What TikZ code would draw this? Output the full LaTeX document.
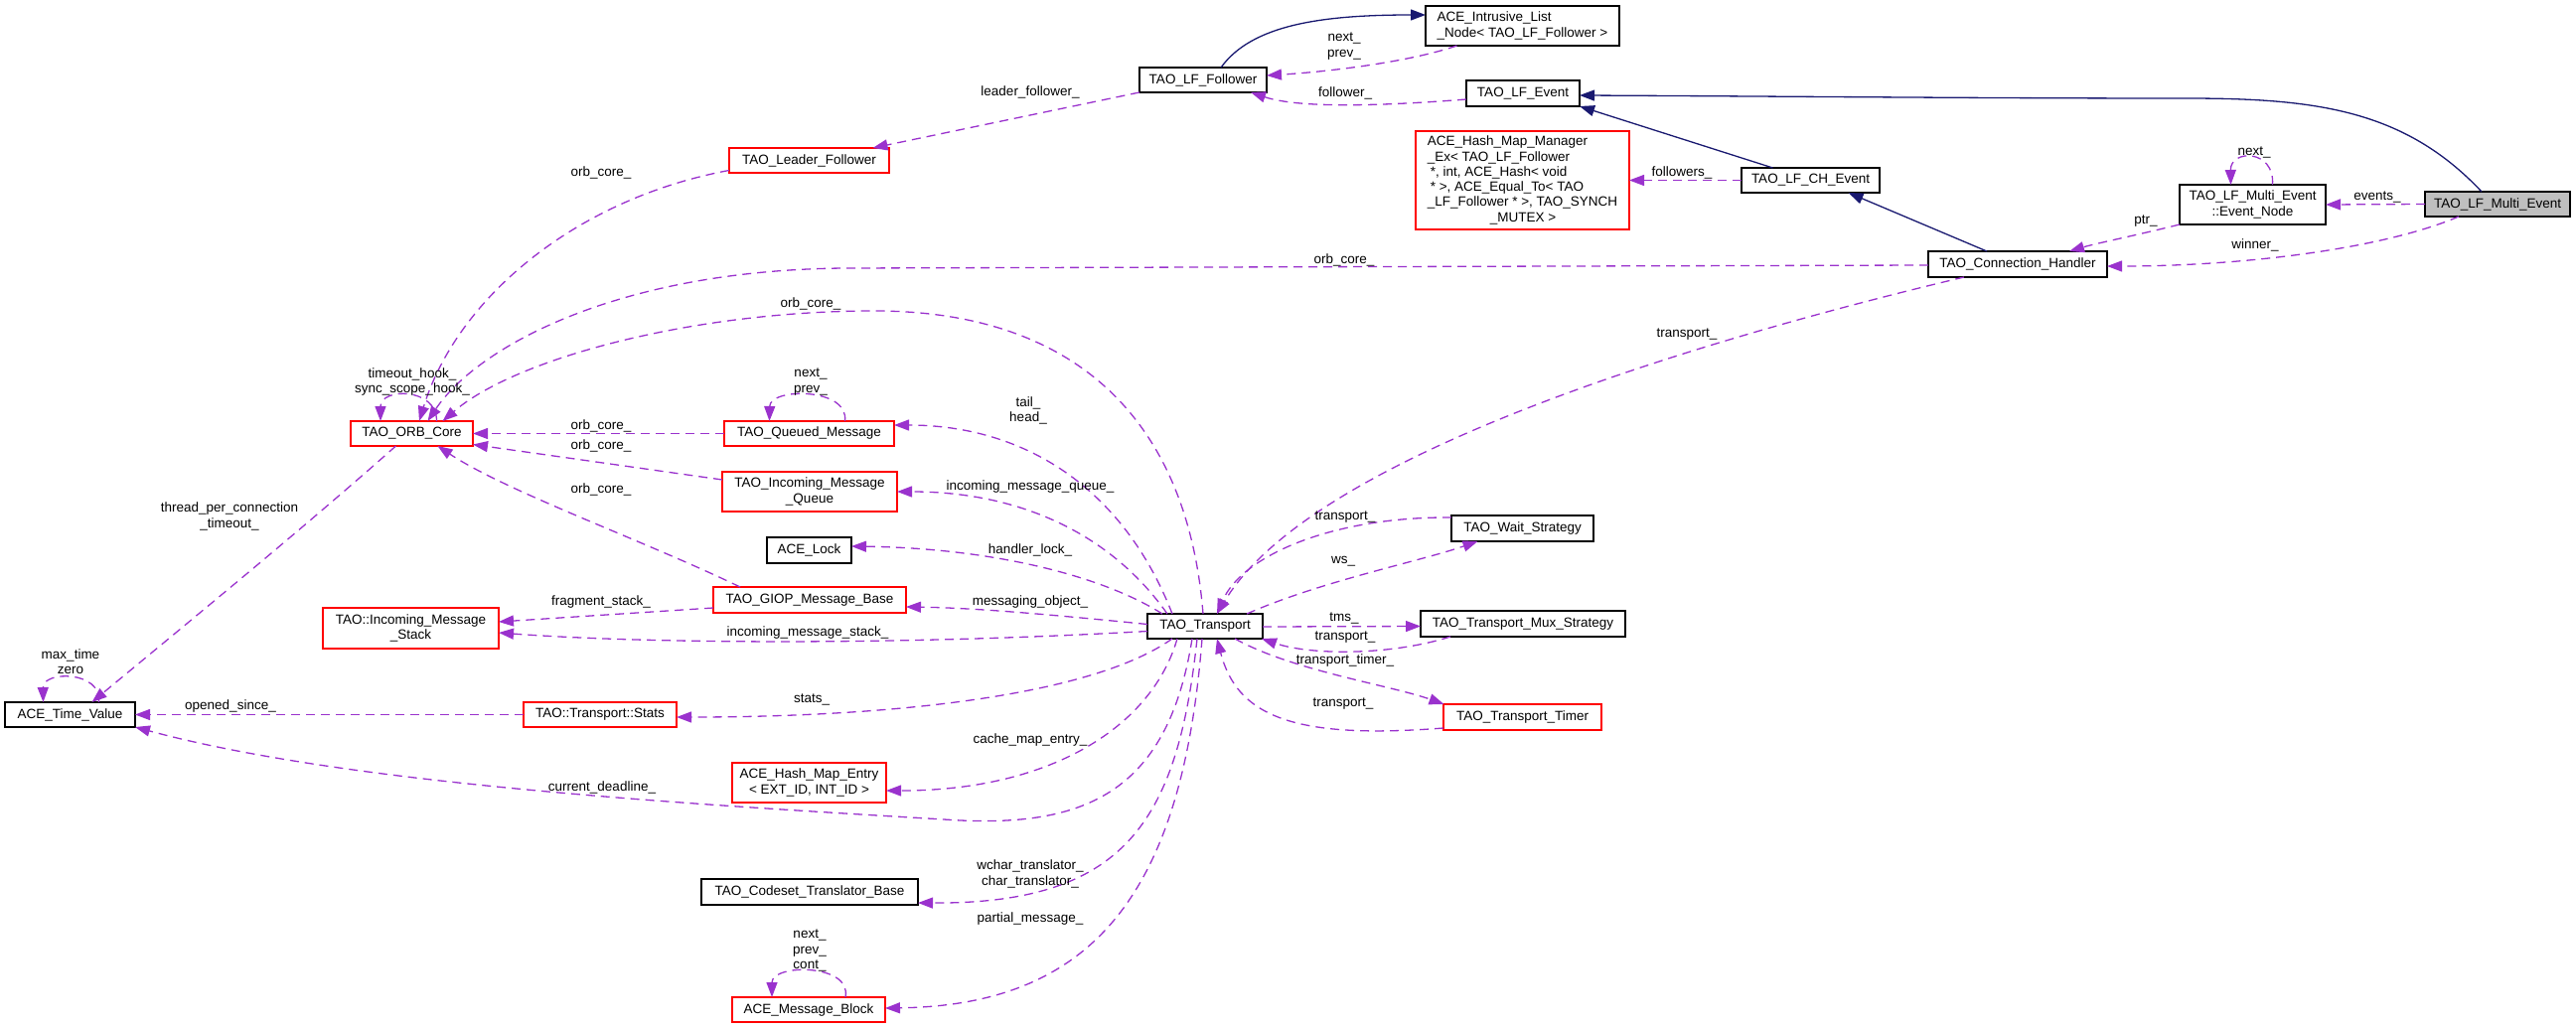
\documentclass[tikz,border=0pt]{standalone}
\usepackage{fontspec}
\setmainfont{Liberation Sans}
\usetikzlibrary{arrows.meta}
\definecolor{edgepurple}{HTML}{9A32CD}
\definecolor{inhblue}{HTML}{191970}
\definecolor{boxred}{HTML}{FF0000}
\definecolor{boxgray}{HTML}{BFBFBF}
\begin{document}
\begin{tikzpicture}[x=1pt,y=-1pt,
  every node/.style={font=\fontsize{13.5}{15.3}\selectfont, inner sep=0pt, outer sep=0pt},
  box/.style={draw=black, line width=1.5pt, fill=white, align=center},
  redbox/.style={box, draw=boxred},
  uses/.style={draw=edgepurple, line width=1.3pt, dash pattern=on 9pt off 6pt, -{Triangle[length=15pt,width=11pt,fill=edgepurple]}},
  inherit/.style={draw=inhblue, line width=1.3pt, -{Triangle[length=15pt,width=11pt,fill=inhblue]}},
  lbl/.style={align=center},
]
\useasboundingbox (0,0) rectangle (2593,1035);

% ---------- nodes ----------
\node[box, align=left, minimum width=195pt, minimum height=40pt] (intr) at (1532.5,26) {ACE\_Intrusive\_List\\\_Node< TAO\_LF\_Follower >};
\node[box, minimum width=128pt, minimum height=25pt] (follower) at (1211,80.5) {TAO\_LF\_Follower};
\node[box, minimum width=114pt, minimum height=26pt] (lfevent) at (1533,94) {TAO\_LF\_Event};
\node[redbox, align=left, minimum width=215pt, minimum height=99pt] (hashmgr) at (1532.5,181.5) {ACE\_Hash\_Map\_Manager\\\_Ex< TAO\_LF\_Follower\\\hspace*{3pt}*, int, ACE\_Hash< void\\\hspace*{3pt}* >, ACE\_Equal\_To< TAO\\\_LF\_Follower * >, TAO\_SYNCH\\\hspace*{63pt}\_MUTEX >};
\node[box, minimum width=139pt, minimum height=25pt] (chevent) at (1822.5,181.5) {TAO\_LF\_CH\_Event};
\node[box, minimum width=147pt, minimum height=40pt] (evnode) at (2267.5,206) {TAO\_LF\_Multi\_Event\\::Event\_Node};
\node[box, fill=boxgray, minimum width=146pt, minimum height=25pt] (multi) at (2514,205.5) {TAO\_LF\_Multi\_Event};
\node[box, minimum width=180pt, minimum height=26pt] (connh) at (2031,266) {TAO\_Connection\_Handler};
\node[redbox, minimum width=161pt, minimum height=25pt] (leader) at (814.5,161.5) {TAO\_Leader\_Follower};
\node[redbox, minimum width=123pt, minimum height=25pt] (orb) at (414.5,436.5) {TAO\_ORB\_Core};
\node[redbox, minimum width=171pt, minimum height=25pt] (queued) at (814.5,436.5) {TAO\_Queued\_Message};
\node[redbox, minimum width=176pt, minimum height=40pt] (imq) at (815,495) {TAO\_Incoming\_Message\\\_Queue};
\node[box, minimum width=85pt, minimum height=26pt] (lock) at (814.5,554) {ACE\_Lock};
\node[redbox, minimum width=194pt, minimum height=26pt] (giop) at (815,604) {TAO\_GIOP\_Message\_Base};
\node[redbox, minimum width=177pt, minimum height=41pt] (ims) at (413.5,632.5) {TAO::Incoming\_Message\\\_Stack};
\node[box, minimum width=116pt, minimum height=25pt] (transport) at (1213,630.5) {TAO\_Transport};
\node[box, minimum width=143pt, minimum height=26pt] (wait) at (1532.5,532) {TAO\_Wait\_Strategy};
\node[box, minimum width=206pt, minimum height=26pt] (mux) at (1533,628) {TAO\_Transport\_Mux\_Strategy};
\node[redbox, minimum width=159pt, minimum height=26pt] (timer) at (1532.5,722) {TAO\_Transport\_Timer};
\node[box, minimum width=131pt, minimum height=25pt] (timeval) at (70.5,719.5) {ACE\_Time\_Value};
\node[redbox, minimum width=154pt, minimum height=25pt] (stats) at (604,719.5) {TAO::Transport::Stats};
\node[redbox, minimum width=155pt, minimum height=40pt] (hme) at (814.5,788) {ACE\_Hash\_Map\_Entry\\< EXT\_ID, INT\_ID >};
\node[box, minimum width=218pt, minimum height=26pt] (codeset) at (815,898) {TAO\_Codeset\_Translator\_Base};
\node[redbox, minimum width=154pt, minimum height=25pt] (msgblk) at (814,1016.5) {ACE\_Message\_Block};

% ---------- inheritance ----------
\draw[inherit] ([xshift=18pt]follower.north) .. controls (1260,25) and (1330,15) .. ([yshift=11pt]intr.west);
\draw[inherit] ([xshift=-38pt]chevent.north) -- (lfevent.south east);
\draw[inherit] ([xshift=-16pt]multi.north) .. controls (2420,110) and (2330,99) .. (2200,99) .. controls (2000,99) and (1800,97) .. ([yshift=-2pt]lfevent.east);
\draw[inherit] ([xshift=-31pt]connh.north) -- ([xshift=38pt]chevent.south);

% ---------- uses ----------
\draw[uses] ([xshift=-66pt]intr.south) .. controls (1420,62) and (1340,72) .. ([yshift=4.5pt]follower.east);
\draw[uses] ([yshift=-6pt]lfevent.west) .. controls (1400,106) and (1310,110) .. ([xshift=48pt]follower.south);
\draw[uses] (chevent.west) -- (hashmgr.east);
\draw[uses] (multi.west) -- (evnode.east);
\draw[uses] ([xshift=20pt]evnode.north) .. controls (2290,150) and (2245,150) .. ([xshift=-22pt]evnode.north);
\draw[uses] (evnode.south west) .. controls (2150,237) and (2110,245) .. ([xshift=52pt]connh.north);
\draw[uses] ([xshift=-39pt]multi.south) .. controls (2400,250) and (2260,268) .. ([yshift=-2pt]connh.east);
\draw[uses] (follower.south west) -- ([xshift=64pt]leader.north);
\draw[uses] ([yshift=-1pt]connh.west) -- (850,270) .. controls (620,272) and (480,350) .. ([xshift=16pt]orb.north);
\draw[uses] ([yshift=-10pt]leader.west) .. controls (580,200) and (460,300) .. ([xshift=7.5pt]orb.north);
\draw[uses] ([xshift=-2pt]transport.north) .. controls (1195,420) and (1080,313) .. (880,313) .. controls (700,313) and (520,360) .. ([xshift=31pt]orb.north);
\draw[uses] ([xshift=25pt]orb.north) .. controls (440,390) and (383,390) .. ([xshift=-31.5pt]orb.north);
\draw[uses] ([xshift=36pt]queued.north) .. controls (855,390) and (775,390) .. ([xshift=-40pt]queued.north);
\draw[uses] (queued.west) -- (orb.east);
\draw[uses] ([yshift=12pt]imq.west) -- ([yshift=-11pt]orb.east);
\draw[uses] ([xshift=-70pt]giop.north) .. controls (650,545) and (510,495) .. ([xshift=26pt]orb.south);
\draw[uses] ([xshift=-33pt]transport.north) .. controls (1130,490) and (1030,428) .. ([yshift=8.5pt]queued.east);
\draw[uses] ([xshift=-38pt]transport.north) .. controls (1120,540) and (1030,495) .. (imq.east);
\draw[uses] ([xshift=-43pt]transport.north) .. controls (1110,580) and (1000,552) .. ([yshift=4pt]lock.east);
\draw[uses] ([yshift=2pt]transport.west) .. controls (1050,618) and (980,612) .. ([yshift=-7pt]giop.east);
\draw[uses] ([yshift=-5pt]transport.west) .. controls (900,650) and (650,648) .. ([yshift=-4.5pt]ims.east);
\draw[uses] ([yshift=-8pt]giop.west) -- ([yshift=6.5pt]ims.east);
\draw[uses] ([xshift=-16pt]orb.south) .. controls (305,532) and (195,622) .. ([xshift=22pt]timeval.north);
\draw[uses] ([xshift=29pt]timeval.north) .. controls (103,675) and (43,675) .. ([xshift=-27pt]timeval.north);
\draw[uses] (stats.west) -- (timeval.east);
\draw[uses] ([xshift=-33pt]transport.south) .. controls (1100,700) and (900,722) .. ([yshift=-2.5pt]stats.east);
\draw[uses] ([xshift=-13pt]transport.south) .. controls (1175,800) and (1090,835) .. (950,825) .. controls (700,810) and (350,790) .. (timeval.south east);
\draw[uses] ([xshift=-28pt]transport.south) .. controls (1160,730) and (1060,796) .. ([yshift=-8pt]hme.east);
\draw[uses] ([xshift=-8pt]transport.south) .. controls (1185,830) and (1130,910) .. ([yshift=-11pt]codeset.east);
\draw[uses] ([xshift=-3pt]transport.south) .. controls (1190,900) and (1100,1012) .. ([yshift=1.5pt]msgblk.east);
\draw[uses] ([xshift=37pt]msgblk.north) .. controls (858,970) and (777,970) .. ([xshift=-37pt]msgblk.north);
\draw[uses] ([xshift=-54pt]connh.south) .. controls (1700,345) and (1320,460) .. ([xshift=12pt]transport.north);
\draw[uses] ([yshift=11pt]wait.west) .. controls (1340,520) and (1250,560) .. ([xshift=12pt]transport.north);
\draw[uses] ([xshift=42pt]transport.north) .. controls (1330,585) and (1430,565) .. ([xshift=-45pt]wait.south);
\draw[uses] ([yshift=-0.5pt]transport.east) -- ([yshift=-2.5pt]mux.west);
\draw[uses] ([xshift=-73pt]mux.south) .. controls (1400,660) and (1320,660) .. ([xshift=57pt]transport.south);
\draw[uses] ([xshift=30pt]transport.south) .. controls (1300,675) and (1400,690) .. ([xshift=-79pt]timer.north);
\draw[uses] ([yshift=-11pt]timer.west) .. controls (1300,745) and (1245,720) .. ([xshift=12pt]transport.south);

% ---------- labels ----------
\node[lbl] (l1) at (1353,46.5) {next\_\\prev\_};
\node[lbl] (l2) at (1354,94) {follower\_};
\node[lbl] (l3) at (1037,93) {leader\_follower\_};
\node[lbl] (l4) at (605,174) {orb\_core\_};
\node[lbl] (l5) at (1693,174) {followers\_};
\node[lbl] (l6) at (2269,153) {next\_};
\node[lbl] (l7) at (2393,198) {events\_};
\node[lbl] (l8) at (2160,223) {ptr\_};
\node[lbl] (l9) at (2270,247) {winner\_};
\node[lbl] (l10) at (1353,262) {orb\_core\_};
\node[lbl] (l11) at (1698,337) {transport\_};
\node[lbl] (l12) at (816,306) {orb\_core\_};
\node[lbl] (l13) at (415,384.5) {timeout\_hook\_\\sync\_scope\_hook\_};
\node[lbl] (l14) at (816,384.5) {next\_\\prev\_};
\node[lbl] (l15) at (1035,413.5) {tail\_\\head\_};
\node[lbl] (l16) at (605,429) {orb\_core\_};
\node[lbl] (l17) at (605,449) {orb\_core\_};
\node[lbl] (l18) at (605,493) {orb\_core\_};
\node[lbl] (l19) at (1037,490) {incoming\_message\_queue\_};
\node[lbl] (l20) at (231,520) {thread\_per\_connection\\\_timeout\_};
\node[lbl] (l21) at (1354,521) {transport\_};
\node[lbl] (l22) at (1037,554) {handler\_lock\_};
\node[lbl] (l23) at (1352,565) {ws\_};
\node[lbl] (l24) at (605,606) {fragment\_stack\_};
\node[lbl] (l25) at (1037,606) {messaging\_object\_};
\node[lbl] (l26) at (1353,622) {tms\_};
\node[lbl] (l27) at (813,637) {incoming\_message\_stack\_};
\node[lbl] (l28) at (1354,642) {transport\_};
\node[lbl] (l29) at (71,666.5) {max\_time\\zero};
\node[lbl] (l30) at (1354,665) {transport\_timer\_};
\node[lbl] (l31) at (817,704) {stats\_};
\node[lbl] (l32) at (1352,709) {transport\_};
\node[lbl] (l33) at (232,711) {opened\_since\_};
\node[lbl] (l34) at (1037,745) {cache\_map\_entry\_};
\node[lbl] (l35) at (606,793) {current\_deadline\_};
\node[lbl] (l36) at (1037,880) {wchar\_translator\_\\char\_translator\_};
\node[lbl] (l37) at (1037,925) {partial\_message\_};
\node[lbl] (l38) at (815,957) {next\_\\prev\_\\cont\_};
\end{tikzpicture}
\end{document}
